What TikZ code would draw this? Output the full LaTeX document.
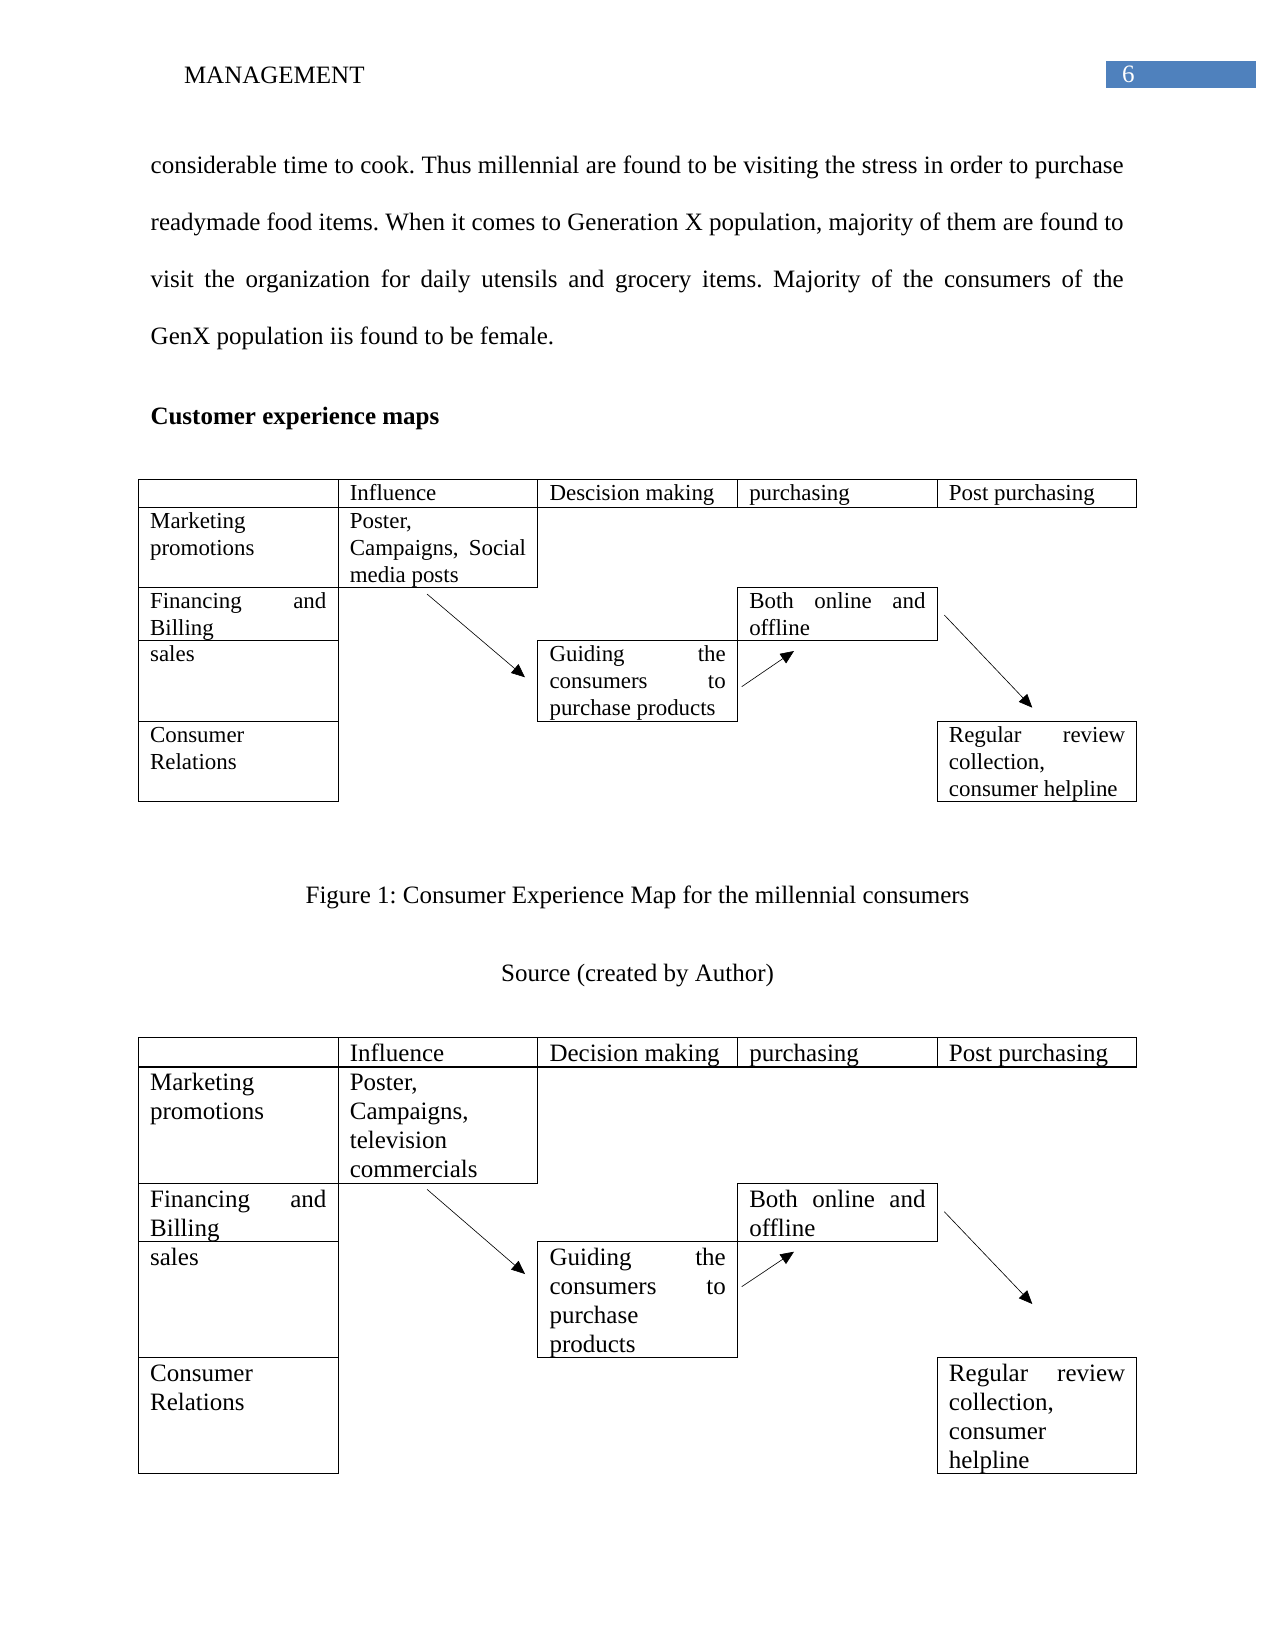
\documentclass[tikz,border=0pt]{standalone}
\usepackage{fontspec}
\setmainfont{Liberation Serif}
\usetikzlibrary{arrows.meta,positioning}
\definecolor{pageblue}{HTML}{4F81BD}
\frenchspacing

% cell contents: fixed height, text from the top
\newcommand{\cellA}[2]{\parbox[t][#1][t]{84.6pt}{\rule{0pt}{10.3pt}#2}}
\newcommand{\cellB}[2]{\parbox[t][#1][t]{84.6pt}{\rule{0pt}{11.6pt}#2}}

\begin{document}
\begin{tikzpicture}[
    x=0.48pt, y=-0.48pt,
    node distance=0pt,
    every node/.style={inner sep=0pt, outer sep=0pt, font=\fontsize{12}{14}\selectfont},
    cell/.style={draw, line width=0.5pt, anchor=north west, inner xsep=5.63pt, inner ysep=0pt},
    mapA/.style={cell, font=\fontsize{11}{12.8}\selectfont},
    mapB/.style={cell, font=\fontsize{12}{13.9}\selectfont},
    pagebox/.style={fill=pageblue, text=white, anchor=north west, minimum height=13.1pt, text width=56.5pt, inner xsep=7.7pt, align=left},
    flow/.style={-{Triangle[length=6.5pt,width=5.5pt]}, line width=0.3pt}
]
\useasboundingbox (0,0) rectangle (1275,1651);

\node[anchor=base west] (title) at (184,83.3) {MANAGEMENT};
\node[pagebox] (pagenum) at (1106,61) {6};

\node[anchor=base west, text width=467pt, align=justify, font=\fontsize{12}{27.4}\selectfont] (para) at (150.7,173.3)
  {considerable time to cook. Thus millennial are found to be visiting the stress in order to purchase\linebreak
   readymade food items. When it comes to Generation X population, majority of them are found to\linebreak
   visit the organization for daily utensils and grocery items. Majority of the consumers of the\linebreak
   GenX population iis found to be female.};
\node[anchor=base west, font=\fontsize{12}{14}\bfseries] (heading) at (150.5,424.3) {Customer experience maps};

% first map
\node[mapA] (ah0) at (138.4,479.3) {\cellA{13.44pt}{}};
\node[mapA, right=of ah0] (ah1) {\cellA{13.44pt}{Influence}};
\node[mapA, right=of ah1] (ah2) {\cellA{13.44pt}{Descision making}};
\node[mapA, right=of ah2] (ah3) {\cellA{13.44pt}{purchasing}};
\node[mapA, right=of ah3] (ah4) {\cellA{13.44pt}{Post purchasing}};
\node[mapA, below=of ah0] (amarket) {\cellA{38.4pt}{Marketing\\promotions}};
\node[mapA, below=of amarket] (afinance) {\cellA{25.44pt}{Financing\hfill and\\Billing}};
\node[mapA, below=of afinance] (asales) {\cellA{38.88pt}{sales}};
\node[mapA, below=of asales] (arel) {\cellA{38.4pt}{Consumer\\Relations}};
\node[mapA, below=of ah1] (ainfl) {\cellA{38.4pt}{Poster,\\Campaigns,\hfill Social\\media posts}};
\node[mapA] (aguide) at (ah2.west |- asales.north) {\cellA{38.88pt}{Guiding\hfill the\\consumers\hfill to\\purchase products}};
\node[mapA] (aboth) at (ah3.west |- afinance.north) {\cellA{25.44pt}{Both\hfill online\hfill and\\offline}};
\node[mapA] (areview) at (ah4.west |- arel.north) {\cellA{38.4pt}{Regular\hfill review\\collection,\\consumer helpline}};
\coordinate (a1s) at (427,594);
\coordinate (a1e) at (525,677.3);
\coordinate (a2s) at (741.7,686.7);
\coordinate (a2e) at (794,651);
\coordinate (a3s) at (944.3,615);
\coordinate (a3e) at (1032.3,707.7);
\draw[flow] (a1s) -- (a1e);
\draw[flow] (a2s) -- (a2e);
\draw[flow] (a3s) -- (a3e);

\node[anchor=base] (caption) at (637.5,903.3) {Figure 1: Consumer Experience Map for the millennial consumers};
\node[anchor=base] (source) at (637.5,981.7) {Source (created by Author)};

% second map
\node[mapB] (bh0) at (138.4,1037.3) {\cellB{14.1pt}{}};
\node[mapB, right=of bh0] (bh1) {\cellB{14.1pt}{Influence}};
\node[mapB, right=of bh1] (bh2) {\cellB{14.1pt}{Decision making}};
\node[mapB, right=of bh2] (bh3) {\cellB{14.1pt}{purchasing}};
\node[mapB, right=of bh3] (bh4) {\cellB{14.1pt}{Post purchasing}};
\draw[line width=1pt] (bh0.south west) -- (bh4.south east);
\node[mapB, below=of bh0] (bmarket) {\cellB{56pt}{Marketing\\promotions}};
\node[mapB, below=of bmarket] (bfinance) {\cellB{27.84pt}{Financing\hfill and\\Billing}};
\node[mapB, below=of bfinance] (bsales) {\cellB{55.7pt}{sales}};
\node[mapB, below=of bsales] (brel) {\cellB{55.7pt}{Consumer\\Relations}};
\node[mapB, below=of bh1] (binfl) {\cellB{56pt}{Poster,\\Campaigns,\\television\\commercials}};
\node[mapB] (bguide) at (bh2.west |- bsales.north) {\cellB{55.7pt}{Guiding\hfill the\\consumers\hfill to\\purchase\\products}};
\node[mapB] (bboth) at (bh3.west |- bfinance.north) {\cellB{27.84pt}{Both\hfill online\hfill and\\offline}};
\node[mapB] (breview) at (bh4.west |- brel.north) {\cellB{55.7pt}{Regular\hfill review\\collection,\\consumer\\helpline}};
\coordinate (b1s) at (427,1189.3);
\coordinate (b1e) at (525,1274);
\coordinate (b2s) at (741.7,1286.7);
\coordinate (b2e) at (794,1251.7);
\coordinate (b3s) at (944.3,1211.7);
\coordinate (b3e) at (1032.3,1304);
\draw[flow] (b1s) -- (b1e);
\draw[flow] (b2s) -- (b2e);
\draw[flow] (b3s) -- (b3e);
\end{tikzpicture}
\end{document}
